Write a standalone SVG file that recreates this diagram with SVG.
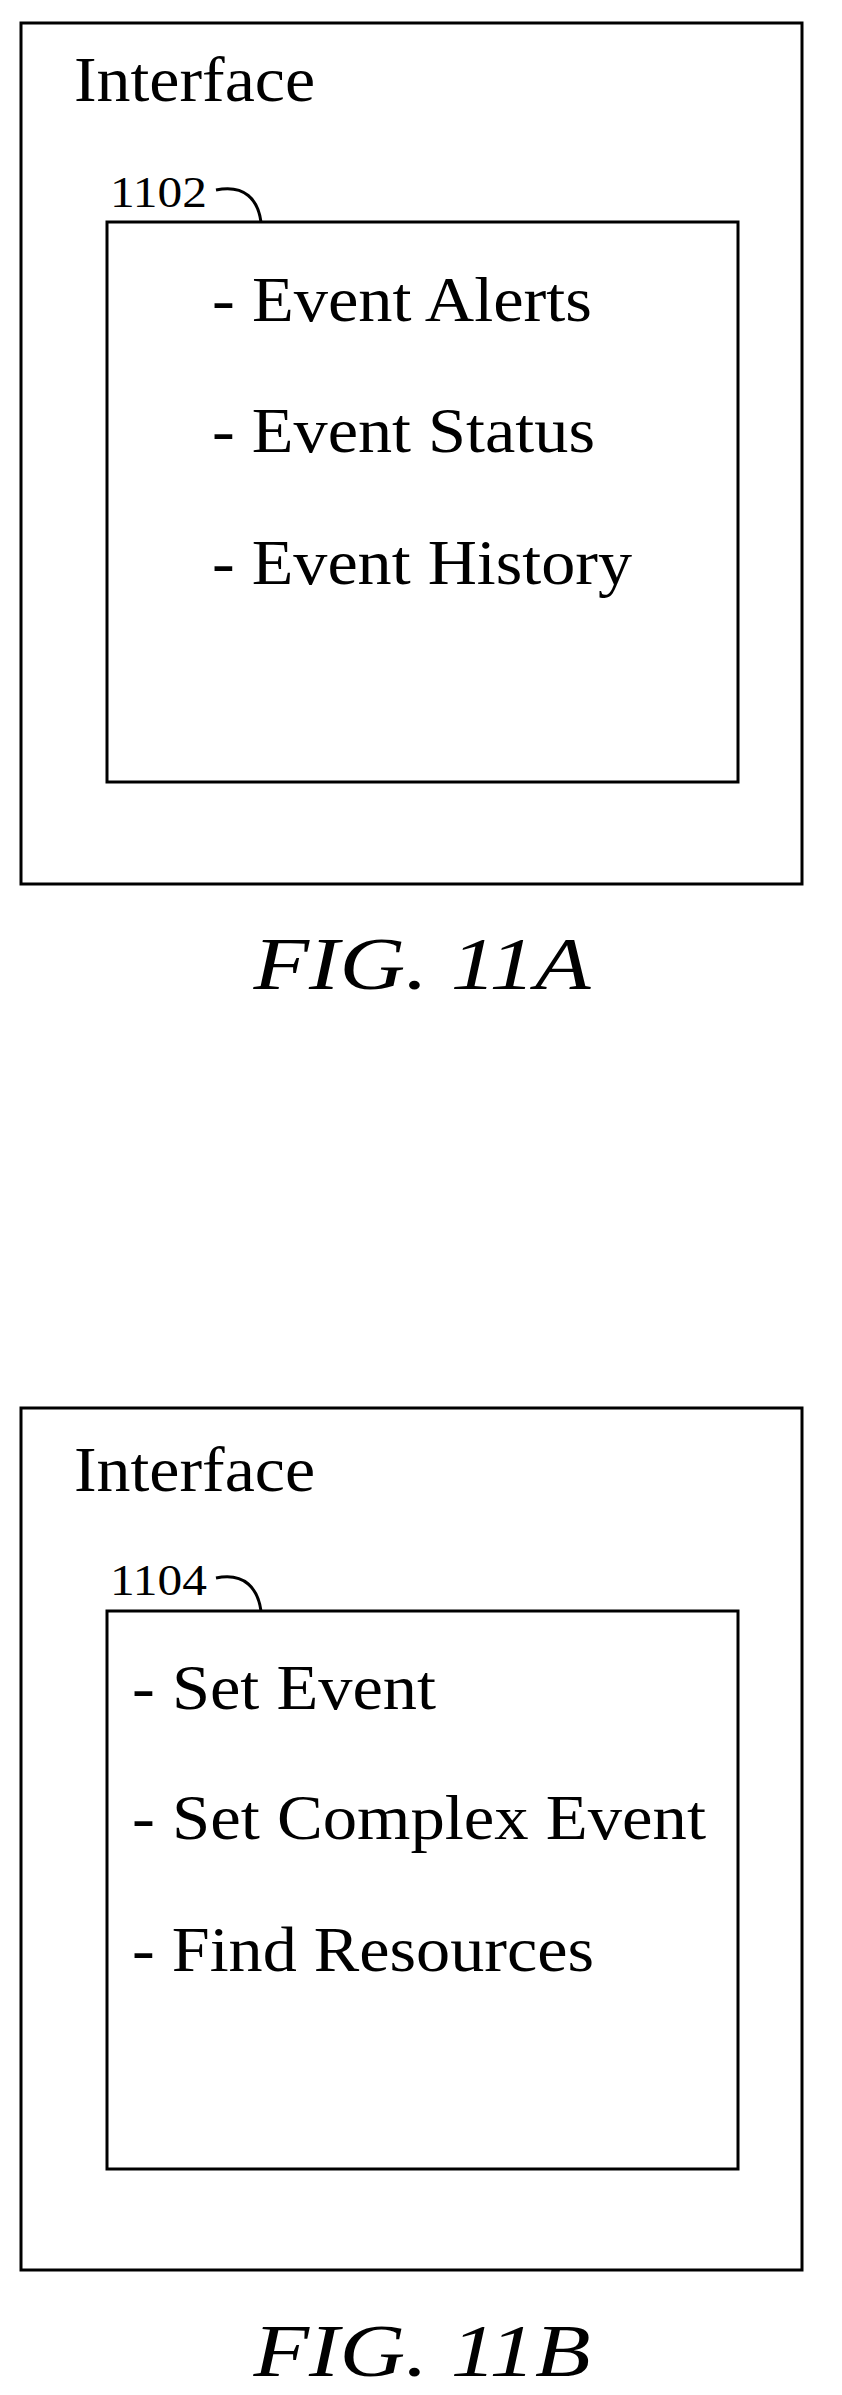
<svg xmlns="http://www.w3.org/2000/svg" width="842" height="2395" viewBox="0 0 842 2395">
<style>
.box{fill:none;stroke:#000;stroke-width:3}
.t{font-family:"Liberation Serif",serif;font-size:64px;fill:#000}
.r{font-family:"Liberation Serif",serif;font-size:44px;fill:#000}
.f{font-family:"Liberation Serif",serif;font-size:74px;font-style:italic;fill:#000}
</style>
<rect width="842" height="2395" fill="#fff"/>
<g id="figA">
<rect class="box" x="21" y="23" width="781" height="861"/>
<text class="t" x="74" y="101" textLength="241" lengthAdjust="spacingAndGlyphs">Interface</text>
<g id="n1102">
<rect class="box" x="107" y="222" width="631" height="560"/>
<text class="t" x="212" y="321" textLength="380" lengthAdjust="spacingAndGlyphs">- Event Alerts</text>
<text class="t" x="212" y="452" textLength="383" lengthAdjust="spacingAndGlyphs">- Event Status</text>
<text class="t" x="212" y="584" textLength="420" lengthAdjust="spacingAndGlyphs">- Event History</text>
</g>
<text class="r" x="110" y="207" textLength="97" lengthAdjust="spacingAndGlyphs">1102</text>
<text class="f" x="422" y="989" text-anchor="middle" textLength="337" lengthAdjust="spacingAndGlyphs">FIG. 11A</text>
</g>
<g id="figB">
<rect class="box" x="21" y="1408" width="781" height="862"/>
<text class="t" x="74" y="1491" textLength="241" lengthAdjust="spacingAndGlyphs">Interface</text>
<g id="n1104">
<rect class="box" x="107" y="1611" width="631" height="558"/>
<text class="t" x="132" y="1709" textLength="304" lengthAdjust="spacingAndGlyphs">- Set Event</text>
<text class="t" x="132" y="1839" textLength="574" lengthAdjust="spacingAndGlyphs">- Set Complex Event</text>
<text class="t" x="132" y="1971" textLength="462" lengthAdjust="spacingAndGlyphs">- Find Resources</text>
</g>
<text class="r" x="110" y="1595" textLength="97" lengthAdjust="spacingAndGlyphs">1104</text>
<text class="f" x="422" y="2376" text-anchor="middle" textLength="337" lengthAdjust="spacingAndGlyphs">FIG. 11B</text>
</g>
<g id="connectors" fill="none" stroke="#000" stroke-width="3">
<path d="M216,190 C245,184 258,200 261,222"/>
<path d="M216,1578 C245,1572 258,1589 261,1611"/>
</g>
</svg>
